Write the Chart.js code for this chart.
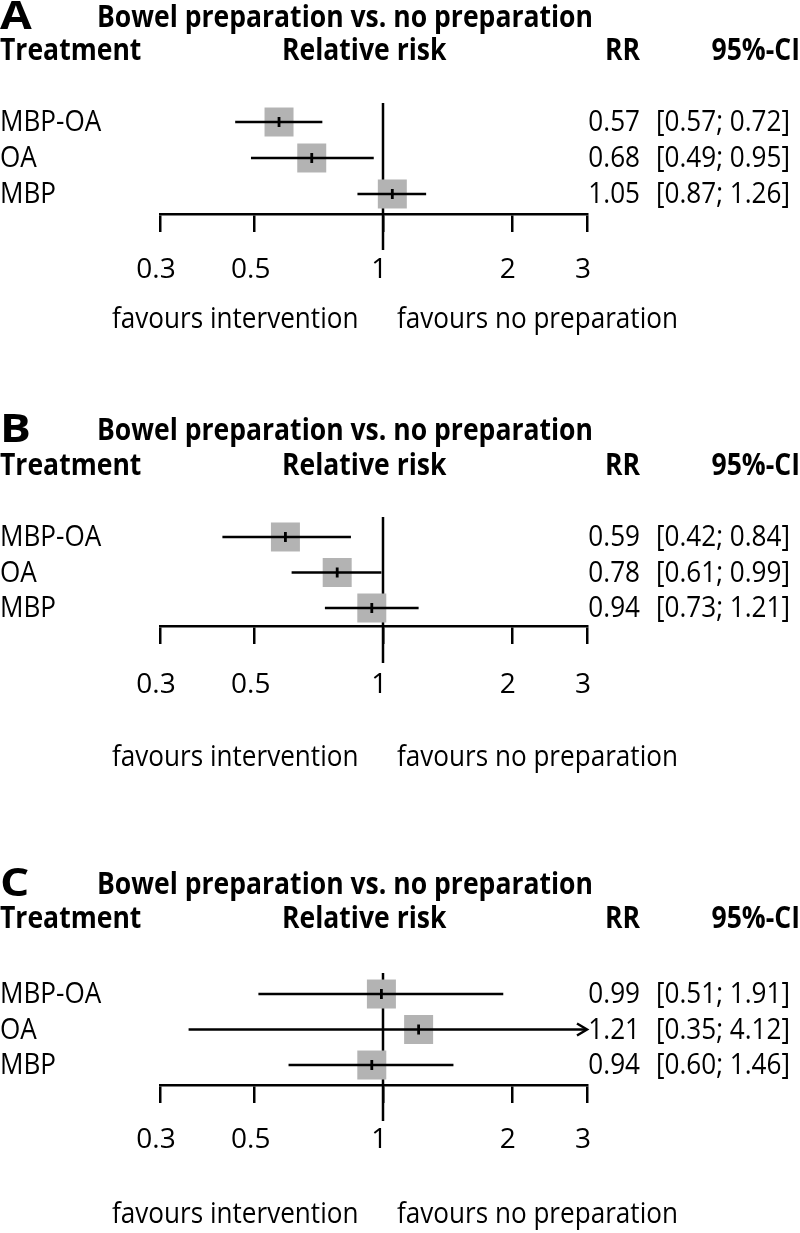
<!DOCTYPE html>
<html><head><meta charset="utf-8">
<script src="https://cdn.jsdelivr.net/npm/chart.js@4.4.1/dist/chart.umd.min.js"></script>
<style>
html,body{margin:0;padding:0;background:#fff;}
#wrap{position:relative;width:800px;height:1233px;overflow:hidden;background:#fff;}
canvas{position:absolute;left:0;}
</style></head><body>
<div id="wrap">
<canvas id="cA" width="800" height="345" style="top:0px"></canvas>
<canvas id="cB" width="800" height="390" style="top:400px"></canvas>
<canvas id="cC" width="800" height="373" style="top:860px"></canvas>
</div>
<script>
// ---- data ----
const treatments = ['MBP-OA', 'OA', 'MBP'];
const rowPos = [3, 2, 1];
const tickValues = [0.3, 0.5, 1, 2, 3];
const tickLabels = ['0.3', '0.5', '1', '2', '3'];
const panelLetters = ['A', 'B', 'C'];
const panelTitle = 'Bowel preparation vs. no preparation';
const headers = ['Treatment', 'Relative risk', 'RR', '95%-CI'];
const sideLabels = ['favours intervention', 'favours no preparation'];

const rrA = [0.57, 0.68, 1.05];
const lowA = [0.45, 0.49, 0.87];
const highA = [0.72, 0.95, 1.26];
const ciTextA = ['[0.57; 0.72]', '[0.49; 0.95]', '[0.87; 1.26]'];

const rrB = [0.59, 0.78, 0.94];
const lowB = [0.42, 0.61, 0.73];
const highB = [0.84, 0.99, 1.21];
const ciTextB = ['[0.42; 0.84]', '[0.61; 0.99]', '[0.73; 1.21]'];

const rrC = [0.99, 1.21, 0.94];
const lowC = [0.51, 0.35, 0.60];
const highC = [1.91, 4.12, 1.46];
const ciTextC = ['[0.51; 1.91]', '[0.35; 4.12]', '[0.60; 1.46]'];

// ---- styling ----
const FAMILY = "'Open Sans', 'Noto Sans', sans-serif";
const BOLD_FONT = 'bold 30px ' + FAMILY;
const LETTER_FONT = 'bold 40px ' + FAMILY;
const REG_FONT = '29px ' + FAMILY;
const REG_SX = 0.9;
const TICK_SIZE = 28;
const BOX_GREY = '#b3b3b3';
const LW = 2.5;

function drawText(ctx, text, x, y, align, font, sx) {
  ctx.save();
  ctx.font = font;
  ctx.textAlign = align;
  ctx.textBaseline = 'middle';
  ctx.translate(x, y);
  ctx.scale(sx, 1);
  ctx.fillText(text, 0, 0);
  ctx.restore();
}

function makePanel(id, idx, rr, lo, hi, ciText, L) {
  const el = document.getElementById(id);
  const H = el.height;
  const decor = {
    id: 'decor' + idx,
    beforeDatasetsDraw(chart) {
      const ctx = chart.ctx, xs = chart.scales.x, ca = chart.chartArea;
      const x1 = Math.round(xs.getPixelForValue(1));
      ctx.save();
      ctx.strokeStyle = '#000'; ctx.lineWidth = LW;
      ctx.beginPath(); ctx.moveTo(x1, ca.top); ctx.lineTo(x1, ca.bottom + L.refExt); ctx.stroke();
      ctx.restore();
    },
    afterDraw(chart) {
      const ctx = chart.ctx, xs = chart.scales.x, ys = chart.scales.y;
      ctx.save();
      ctx.fillStyle = '#000';
      ctx.font = BOLD_FONT;
      const bsx = 496 / ctx.measureText(panelTitle).width;
      drawText(ctx, panelLetters[idx], 0, L.titleY, 'left', LETTER_FONT, 1.15);
      drawText(ctx, panelTitle, 97, L.titleY, 'left', BOLD_FONT, bsx);
      drawText(ctx, headers[0], 0, L.headY, 'left', BOLD_FONT, bsx);
      drawText(ctx, headers[1], 282, L.headY, 'left', BOLD_FONT, bsx);
      drawText(ctx, headers[2], 605, L.headY, 'left', BOLD_FONT, bsx);
      drawText(ctx, headers[3], 800, L.headY, 'right', BOLD_FONT, bsx);
      treatments.forEach((t, i) => {
        const y = ys.getPixelForValue(rowPos[i]) + 1;
        drawText(ctx, t, 0, y, 'left', REG_FONT, REG_SX);
        drawText(ctx, rr[i].toFixed(2), 640, y, 'right', REG_FONT, REG_SX);
        drawText(ctx, ciText[i], 790, y, 'right', REG_FONT, REG_SX);
      });
      drawText(ctx, sideLabels[0], 112, L.favY, 'left', REG_FONT, REG_SX);
      drawText(ctx, sideLabels[1], 397, L.favY, 'left', REG_FONT, REG_SX);
      // arrows for CIs beyond the axis range
      ctx.strokeStyle = '#000'; ctx.lineWidth = LW;
      hi.forEach((h, i) => {
        if (h > xs.max) {
          const xr = xs.getPixelForValue(xs.max);
          const y = ys.getPixelForValue(rowPos[i]);
          ctx.beginPath();
          ctx.moveTo(xr - 10, y - 6); ctx.lineTo(xr, y); ctx.lineTo(xr - 10, y + 6);
          ctx.stroke();
        }
      });
      ctx.restore();
    }
  };

  const ciSets = treatments.map((t, i) => ({
    label: t + ' CI',
    data: [{x: lo[i], y: rowPos[i]}, {x: hi[i], y: rowPos[i]}],
    showLine: true,
    borderColor: '#000',
    borderWidth: LW,
    pointRadius: 0,
    order: 2
  }));

  return new Chart(el, {
    type: 'scatter',
    data: {
      datasets: [
        {
          label: 'estimate',
          data: rr.map((v, i) => ({x: v, y: rowPos[i]})),
          pointStyle: 'line',
          pointRotation: 90,
          pointRadius: 5,
          pointBorderColor: '#000',
          pointBorderWidth: 2.8,
          order: 1
        },
        ...ciSets,
        {
          label: 'box',
          data: rr.map((v, i) => ({x: v, y: rowPos[i]})),
          pointStyle: 'rect',
          pointRadius: 20.5,
          pointBackgroundColor: BOX_GREY,
          pointBorderWidth: 0,
          pointBorderColor: BOX_GREY,
          order: 3
        }
      ]
    },
    options: {
      responsive: false,
      animation: false,
      events: [],
      layout: {padding: {left: 160, right: 213, top: L.refTop, bottom: 0}},
      plugins: {legend: {display: false}, tooltip: {enabled: false}},
      scales: {
        x: {
          type: 'logarithmic',
          min: 0.3, max: 3,
          afterBuildTicks: s => { s.ticks = tickValues.map(v => ({value: v})); },
          afterFit: s => { s.height = H - L.axisY; },
          ticks: {
            autoSkip: false, maxRotation: 0, minRotation: 0,
            padding: L.labelPad, color: '#000', labelOffset: -4,
            font: {family: FAMILY, size: TICK_SIZE},
            callback: v => {
              const k = tickValues.findIndex(t => Math.abs(t - v) < 1e-9);
              return k >= 0 ? tickLabels[k] : '';
            }
          },
          grid: {drawOnChartArea: false, drawTicks: true, tickLength: 18, color: '#000', lineWidth: LW},
          border: {display: true, color: '#000', width: LW}
        },
        y: {
          type: 'linear', display: false,
          min: L.yMin, max: L.yMax
        }
      }
    },
    plugins: [decor]
  });
}

makePanel('cA', 0, rrA, lowA, highA, ciTextA,
  {titleY: 18, headY: 51, refTop: 103, axisY: 214, refExt: 36, labelPad: 21, favY: 320, yMin: 0.444, yMax: 3.528});
makePanel('cB', 1, rrB, lowB, highB, ciTextB,
  {titleY: 31, headY: 66, refTop: 117, axisY: 226, refExt: 37, labelPad: 24, favY: 358, yMin: 0.493, yMax: 3.563});
makePanel('cC', 2, rrC, lowC, highC, ciTextC,
  {titleY: 25, headY: 59, refTop: 113, axisY: 225, refExt: 36, labelPad: 20, favY: 355, yMin: 0.437, yMax: 3.592});
</script>
</body></html>
